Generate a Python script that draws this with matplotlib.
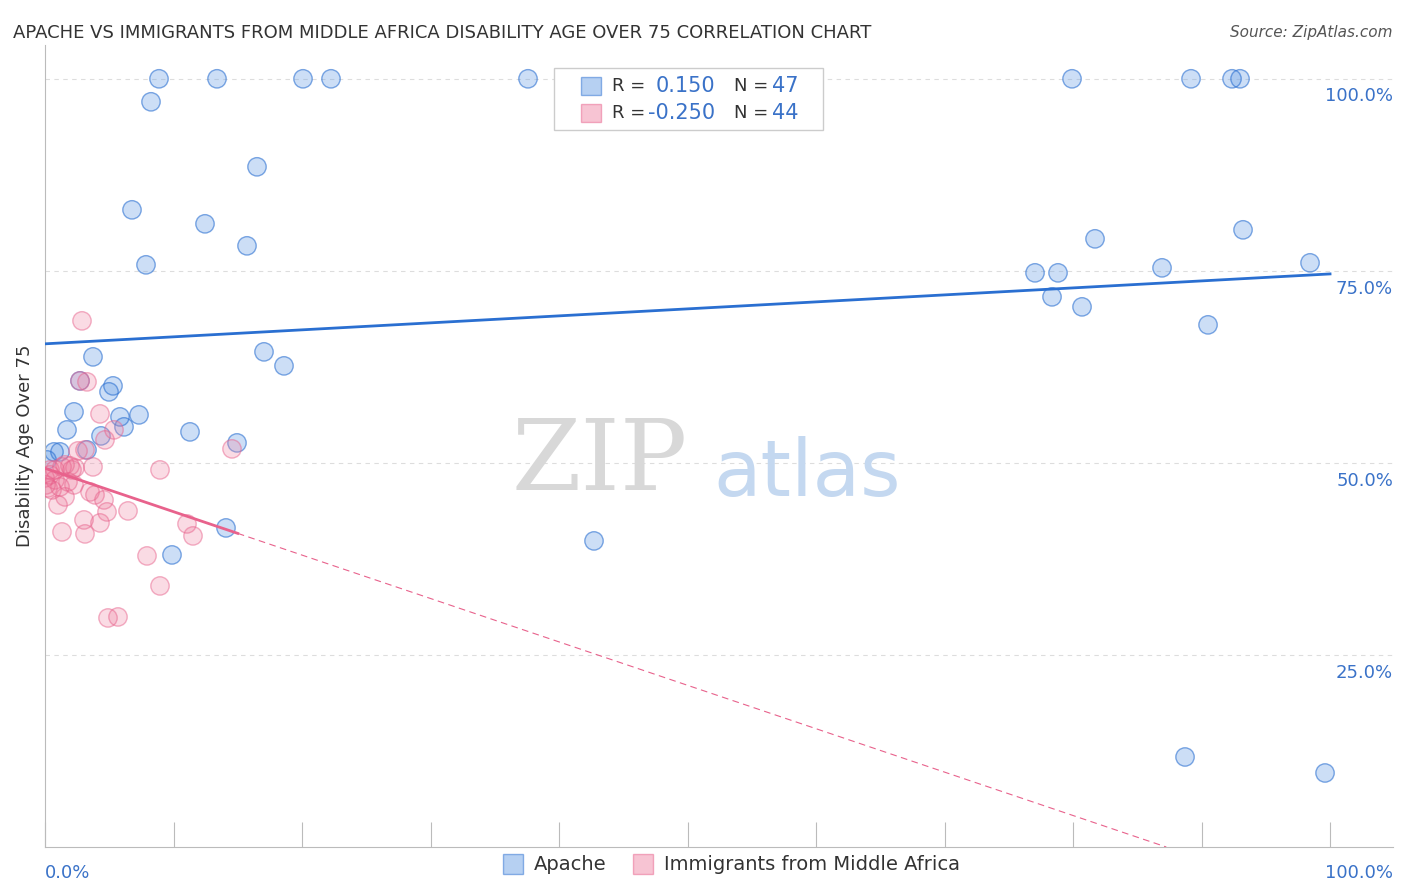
import numpy as np
import matplotlib.pyplot as plt

# pixel readings converted to percent
def px_x(p):
    return [(v - 45) / 12.85 for v in p]

def px_y(p):
    return [(847 - v) / 7.68 for v in p]

apache_px = [(159,79),(217,79),(303,79),(331,79),(528,79),(1072,79),(1191,79),(1232,79),(1240,79),
             (151,102),(257,167),(132,210),(205,224),(247,246),(146,265),(1095,239),(1243,230),
             (1035,273),(1058,273),(1162,268),(1310,263),(1052,297),(1082,307),(1208,325),(93,357),
             (264,352),(284,366),(80,381),(113,386),(109,392),(74,412),(120,417),(139,415),(67,430),
             (124,427),(101,436),(190,432),(87,450),(237,443),(54,452),(60,452),(226,528),(172,555),
             (594,541),(1185,757),(1325,773),(47,460)]
immig_px = [(82,321),(80,381),(87,382),(100,414),(114,430),(105,440),(85,450),(78,451),(93,467),
            (70,466),(62,467),(72,470),(75,468),(50,470),(55,480),(45,478),(48,488),(52,490),
            (60,487),(74,485),(90,492),(95,495),(65,497),(58,505),(104,500),(107,512),(84,520),
            (128,511),(160,470),(187,524),(193,536),(100,523),(62,532),(85,534),(147,556),(160,586),
            (108,618),(118,617),(232,449),(50,475),(65,465),(55,470),(68,482),(46,485)]

apache_x = px_x([p[0] for p in apache_px]); apache_y = px_y([p[1] for p in apache_px])
immig_x = px_x([p[0] for p in immig_px]); immig_y = px_y([p[1] for p in immig_px])

# trend lines (intercept, slope)
apache_fit = (65.5, 0.091)
immig_fit = (49.3, -0.565)
immig_solid_end = 15.0

blue = '#6fa3e6'; blue_line = '#2a6fd1'
pink = '#f08aa8'; pink_line = '#e8628c'
label_blue = '#3a72c8'

fig = plt.figure(figsize=(14.06, 8.92), dpi=100)
ax = fig.add_axes([45/1406, 45/892, 1348/1406, 802/892])
ax.set_xlim(0, 104.9)
ax.set_ylim(0, 104.4)

for y in [25, 50, 75, 100]:
    ax.axhline(y, color='#dddddd', ls=(0, (4, 4)), lw=0.8, zorder=0)

S = 175
ax.scatter(apache_x, apache_y, s=S, facecolor=blue, alpha=0.35, edgecolor='none', zorder=2)
ax.scatter(apache_x, apache_y, s=S, facecolor='none', edgecolor=blue_line, alpha=0.6, lw=1, zorder=2)
ax.scatter(immig_x, immig_y, s=S, facecolor=pink, alpha=0.3, edgecolor='none', zorder=3)
ax.scatter(immig_x, immig_y, s=S, facecolor='none', edgecolor=pink_line, alpha=0.5, lw=1, zorder=3)

xs = np.array([0, 100])
ax.plot(xs, apache_fit[0] + apache_fit[1] * xs, color=blue_line, lw=2, zorder=4)
xs1 = np.array([0, immig_solid_end])
ax.plot(xs1, immig_fit[0] + immig_fit[1] * xs1, color=pink_line, lw=2, zorder=4)
x0 = -immig_fit[0] / immig_fit[1]
xs2 = np.array([immig_solid_end, x0])
ax.plot(xs2, immig_fit[0] + immig_fit[1] * xs2, color=pink_line, lw=0.8, ls=(0, (6, 4)), zorder=4)

for s in ['top', 'right']:
    ax.spines[s].set_visible(False)
ax.spines['left'].set_color('#bbbbbb')
ax.spines['bottom'].set_color('#bbbbbb')
ax.set_xticks(np.arange(0, 101, 10))
ax.set_xticklabels([])
ax.tick_params(axis='x', length=18, color='#bbbbbb', direction='in')
ax.set_yticks([])
for y in [25, 50, 75, 100]:
    ax.text(104.9, y - 2.3, f'{y:.1f}%', ha='right', va='center', color=label_blue, fontsize=13)
ax.text(0, -2.2, '0.0%', ha='left', va='top', color=label_blue, fontsize=13)
ax.text(104.9, -2.2, '100.0%', ha='right', va='top', color=label_blue, fontsize=13)
ax.set_ylabel('Disability Age Over 75', fontsize=13, color='#333333', labelpad=8)

ax.text(50, 50, 'ZIP', fontsize=72, color='#d8d8d8', ha='right', va='center', family='DejaVu Serif')
ax.text(52, 48.5, 'atlas', fontsize=56, color='#c4d8f0', ha='left', va='center')

fig.text(13/1406, 1 - 33/892, 'APACHE VS IMMIGRANTS FROM MIDDLE AFRICA DISABILITY AGE OVER 75 CORRELATION CHART',
         fontsize=13, color='#333333', va='center')
fig.text(1393/1406, 1 - 33/892, 'Source: ZipAtlas.com', fontsize=11, color='#555555', ha='right', va='center', style='italic')

# stats legend
lx, ly = 554/1406, 1 - 130/892
fig.patches.append(plt.Rectangle((lx, ly), 269/1406, 62/892, transform=fig.transFigure,
                                 facecolor='white', edgecolor='#cccccc', lw=1))
for i, (fc, ec, r, n) in enumerate([(blue, blue_line, '0.150', '47'), (pink, pink_line, '-0.250', '44')]):
    yy = 1 - (86 + 27 * i) / 892
    fig.patches.append(plt.Rectangle((581/1406, yy - 9/892), 20/1406, 18/892, transform=fig.transFigure,
                                     facecolor=fc, alpha=0.5, edgecolor=ec, lw=1))
    fig.text(612/1406, yy, 'R =', fontsize=13, color='#333333', va='center')
    fig.text(715/1406, yy, r, fontsize=15, color=label_blue, va='center', ha='right')
    fig.text(734/1406, yy, 'N =', fontsize=13, color='#333333', va='center')
    fig.text(772/1406, yy, n, fontsize=15, color=label_blue, va='center')

# bottom legend
for x0p, fc, ec, lab in [(503, blue, blue_line, 'Apache'), (633, pink, pink_line, 'Immigrants from Middle Africa')]:
    fig.patches.append(plt.Rectangle((x0p/1406, 1 - 874/892), 20/1406, 20/892, transform=fig.transFigure,
                                     facecolor=fc, alpha=0.5, edgecolor=ec, lw=1))
    fig.text((x0p + 31)/1406, 1 - 864/892, lab, fontsize=14, color='#333333', va='center')

fig.savefig('out.png', dpi=100)
